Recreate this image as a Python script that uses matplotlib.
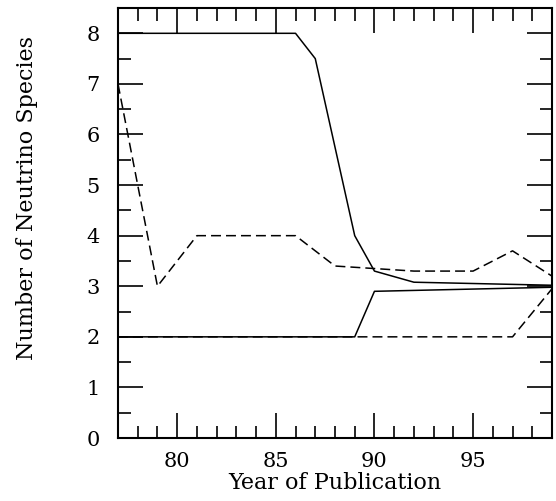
import numpy as np
import matplotlib
matplotlib.use("Agg")
import matplotlib.pyplot as plt
from matplotlib.ticker import MultipleLocator

# solid curves
solid_hi_x = [77, 86, 87, 89, 90, 92, 99]
solid_hi_y = [8, 8, 7.5, 4.0, 3.3, 3.08, 3.02]
solid_lo_x = [77, 89, 90, 99]
solid_lo_y = [2, 2, 2.9, 2.98]

# dashed curves
dash_hi_x = [77, 79, 81, 86, 88, 92, 95, 97, 99]
dash_hi_y = [7, 3, 4, 4, 3.4, 3.3, 3.3, 3.7, 3.2]
dash_lo_x = [77, 97, 99]
dash_lo_y = [2, 2, 2.95]

plt.rcParams['font.family'] = 'DejaVu Serif'

fig = plt.figure(figsize=(5.56, 5.01), dpi=100)
ax = fig.add_axes([0.2122, 0.1257, 0.7806, 0.8583])

ax.plot(solid_hi_x, solid_hi_y, color='k', lw=1.1)
ax.plot(solid_lo_x, solid_lo_y, color='k', lw=1.1)
ax.plot(dash_hi_x, dash_hi_y, color='k', lw=1.1, linestyle=(0, (6.5, 3.3)))
ax.plot(dash_lo_x, dash_lo_y, color='k', lw=1.1, linestyle=(0, (6.5, 3.3)))

ax.set_xlim(77, 99)
ax.set_ylim(0, 8.5)
ax.xaxis.set_major_locator(MultipleLocator(5))
ax.xaxis.set_minor_locator(MultipleLocator(1))
ax.yaxis.set_major_locator(MultipleLocator(1))
ax.yaxis.set_minor_locator(MultipleLocator(0.5))

ax.tick_params(which='both', direction='in', top=True, right=True, width=1.2, labelsize=15)
ax.tick_params(which='major', length=18)
ax.tick_params(which='minor', length=9)
ax.tick_params(axis='x', pad=10)
ax.tick_params(axis='y', pad=13)
for s in ax.spines.values():
    s.set_linewidth(1.5)

ax.set_xlabel('Year of Publication', fontsize=16)
ax.xaxis.set_label_coords(0.5, -0.08)
ax.set_ylabel('Number of Neutrino Species', fontsize=16)
ax.yaxis.set_label_coords(-0.185, 0.558)

fig.savefig('out.png', dpi=100)
